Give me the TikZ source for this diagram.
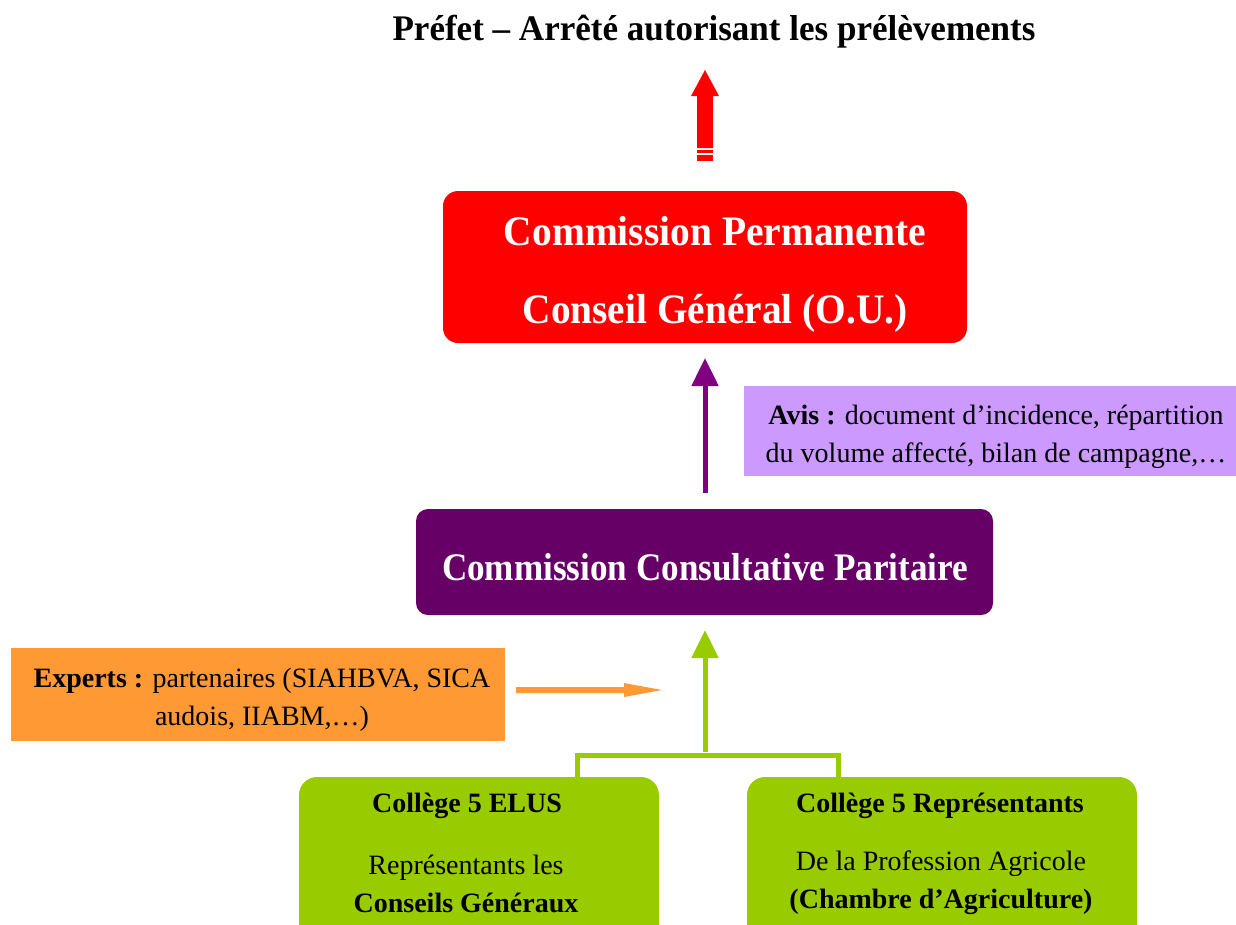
\documentclass[tikz,border=0pt]{standalone}
\usepackage{fontspec}
\setmainfont{Liberation Serif}
\usetikzlibrary{arrows.meta}
\definecolor{cpred}{HTML}{FF0000}
\definecolor{cppurple}{HTML}{660066}
\definecolor{arrpurple}{HTML}{800080}
\definecolor{avisbg}{HTML}{CC99FF}
\definecolor{orangebg}{HTML}{FF9933}
\definecolor{greenbg}{HTML}{99CC00}
\newcommand{\sqz}[2]{\scalebox{#1}[1]{#2}}
\tikzset{
  bigtext/.style={font=\fontsize{42}{44}\selectfont\bfseries, text=white, inner sep=0pt},
  smalltext/.style={font=\fontsize{28}{38}\selectfont, inner sep=0pt, align=center},
  colltitle/.style={font=\fontsize{28}{30}\selectfont\bfseries, inner sep=0pt},
  college/.style={fill=greenbg, rounded corners=18pt, draw=none},
  gline/.style={draw=greenbg, line width=5pt},
}
\begin{document}
\begin{tikzpicture}[x=1pt,y=-1pt]
\useasboundingbox (0,0) rectangle (1236,924);
% title
\node[inner sep=0pt, font=\fontsize{36}{38}\selectfont\bfseries] (title) at (714,32) {\sqz{0.973}{Préfet – Arrêté autorisant les prélèvements}};
% red block arrow
\fill[cpred] (697,148) -- (697,96) -- (691,96) -- (705,70) -- (719,96) -- (713,96) -- (713,148) -- cycle;
\fill[cpred] (697,150) rectangle (713,153);
\fill[cpred] (697,155) rectangle (713,161);
% red box
\fill[cpred, rounded corners=15pt] (443,191) rectangle (967,343);
\node[bigtext] (cp1) at (715,231) {\sqz{0.94}{Commission Permanente}};
\node[bigtext] (cp2) at (715,313) {\sqz{0.937}{Conseil Général (O.U.)}};
% avis box
\fill[avisbg] (744,386) rectangle (1236,476);
\node[smalltext] (avis) at (996,437) {\textbf{Avis :} document d’incidence, répartition\\du volume affecté, bilan de campagne,…};
% purple box
\fill[cppurple, rounded corners=12pt] (416,509) rectangle (993,615);
\node[bigtext, font=\fontsize{39}{41}\selectfont\bfseries] (ccp) at (705,567) {\sqz{0.90}{Commission Consultative Paritaire}};
% purple arrow
\coordinate (pstart) at (705,493);
\coordinate (pend) at (705,358);
\draw[arrpurple, line width=5pt, -{Triangle[length=28pt,width=26pt]}] (pstart) -- (pend);
% green arrow
\coordinate (gstart) at (705,752);
\coordinate (gend) at (705,630);
\draw[greenbg, line width=5pt, -{Triangle[length=28pt,width=26pt]}] (gstart) -- (gend);
% green connector
\draw[gline] (577,779) -- (577,755.5) -- (838,755.5) -- (838,779);
% orange box
\fill[orangebg] (11,648) rectangle (505,741);
\node[smalltext] (exp) at (262,700) {\textbf{Experts :} partenaires (SIAHBVA, SICA\\audois, IIABM,…)};
% orange arrow
\fill[orangebg] (516,687) -- (624,687) -- (624,683) -- (662,690) -- (624,697) -- (624,693) -- (516,693) -- cycle;
% green boxes
\fill[college] (299,777) rectangle (659,950);
\fill[college] (747,777) rectangle (1137,950);
\node[colltitle] (c1a) at (467,806) {Collège 5 ELUS};
\node[smalltext] (c1b) at (466,884) {Représentants les\\\textbf{Conseils Généraux}};
\node[colltitle] (c2a) at (940,806) {Collège 5 Représentants};
\node[smalltext] (c2b) at (941,883) {De la Profession Agricole\\\textbf{(Chambre d’Agriculture)}};
\end{tikzpicture}
\end{document}
